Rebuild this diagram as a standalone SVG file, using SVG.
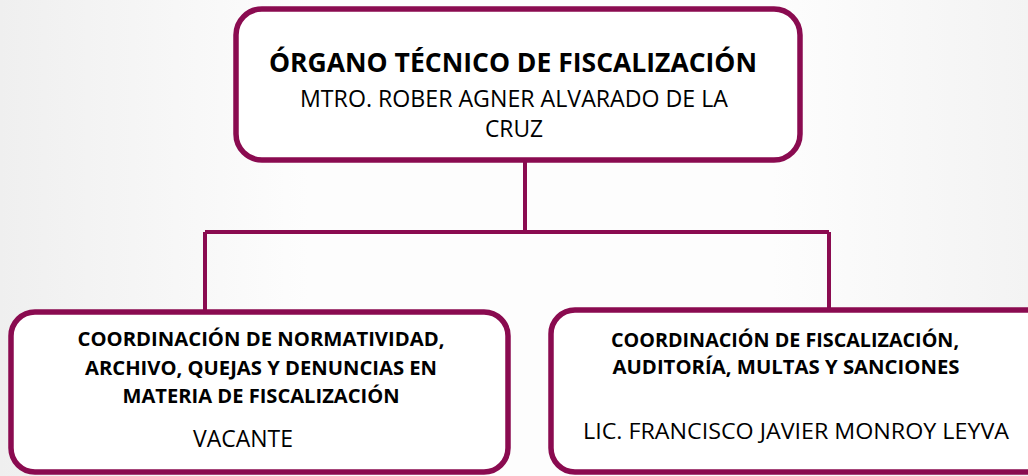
<svg xmlns="http://www.w3.org/2000/svg" width="1028" height="476" viewBox="0 0 1028 476">
<defs>
<linearGradient id="bg" x1="0" y1="0" x2="1" y2="0">
<stop offset="0" stop-color="#efefef"/>
<stop offset="0.3" stop-color="#fdfdfd"/>
<stop offset="0.75" stop-color="#fdfdfd"/>
<stop offset="1" stop-color="#f3f3f3"/>
</linearGradient>
<style>
.box{fill:#ffffff;stroke:#8a0b50;stroke-width:5.5}
.con{fill:none;stroke:#8a0b50;stroke-width:4}
.t{font-family:"Open Sans","Liberation Sans",Arial,sans-serif;fill:#000;text-anchor:middle}
.b{font-weight:bold}
</style>
</defs>
<rect width="1028" height="476" fill="url(#bg)"/>
<g id="connectors">
<path class="con" d="M525 160 V232 M205 232 H829 M205 232 V312 M829 232 V310"/>
</g>
<g id="node-organo">
<rect class="box" x="236" y="9" width="564" height="151" rx="26"/>
<text class="t b" x="513" y="72" font-size="27" textLength="488" lengthAdjust="spacingAndGlyphs">ÓRGANO TÉCNICO DE FISCALIZACIÓN</text>
<text class="t" x="514" y="107" font-size="24" textLength="428" lengthAdjust="spacingAndGlyphs">MTRO. ROBER AGNER ALVARADO DE LA</text>
<text class="t" x="514" y="137" font-size="24" textLength="58" lengthAdjust="spacingAndGlyphs">CRUZ</text>
</g>
<g id="node-normatividad">
<rect class="box" x="11" y="312" width="497" height="160" rx="24"/>
<text class="t b" x="261" y="346" font-size="19" textLength="367" lengthAdjust="spacingAndGlyphs">COORDINACIÓN DE NORMATIVIDAD,</text>
<text class="t b" x="261" y="375" font-size="19" textLength="352" lengthAdjust="spacingAndGlyphs">ARCHIVO, QUEJAS Y DENUNCIAS EN</text>
<text class="t b" x="261" y="403" font-size="19" textLength="277" lengthAdjust="spacingAndGlyphs">MATERIA DE FISCALIZACIÓN</text>
<text class="t" x="243" y="447" font-size="23" textLength="100" lengthAdjust="spacingAndGlyphs">VACANTE</text>
</g>
<g id="node-fiscalizacion">
<rect class="box" x="551" y="310" width="500" height="162" rx="24"/>
<text class="t b" x="785" y="347" font-size="19" textLength="348" lengthAdjust="spacingAndGlyphs">COORDINACIÓN DE FISCALIZACIÓN,</text>
<text class="t b" x="786" y="374" font-size="19" textLength="347" lengthAdjust="spacingAndGlyphs">AUDITORÍA, MULTAS Y SANCIONES</text>
<text class="t" x="796" y="439" font-size="22" textLength="426" lengthAdjust="spacingAndGlyphs">LIC. FRANCISCO JAVIER MONROY LEYVA</text>
</g>
</svg>
